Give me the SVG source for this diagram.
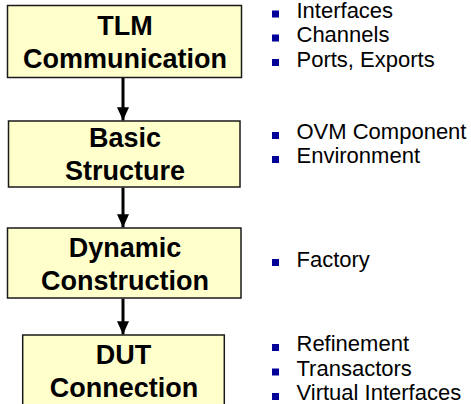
<svg xmlns="http://www.w3.org/2000/svg" width="471" height="404" viewBox="0 0 471 404">
<defs>
<style>
.box{fill:#FFFFCC;stroke:#1a1a1a;stroke-width:1.5}
.t{font-family:"Liberation Sans",Arial,sans-serif;font-weight:bold;font-size:27px;fill:#000;text-anchor:middle}
.b{font-family:"Liberation Sans",Arial,sans-serif;font-size:22px;fill:#000}
.sq{fill:#000099}
.c{stroke:#000;stroke-width:3;fill:none}
</style>
<marker id="ah" markerWidth="5" markerHeight="4" refX="4.4" refY="2" orient="auto" markerUnits="strokeWidth">
<path d="M0,0 L4.4,2 L0,4 Z" fill="#000"/>
</marker>
</defs>
<g id="connectors">
<line class="c" x1="123" y1="78" x2="123" y2="120.5" marker-end="url(#ah)"/>
<line class="c" x1="123" y1="187.5" x2="123" y2="227.5" marker-end="url(#ah)"/>
<line class="c" x1="123" y1="298.5" x2="123" y2="334.5" marker-end="url(#ah)"/>
</g>
<g id="tlm">
<rect class="box" x="7.5" y="5.5" width="234" height="72"/>
<text class="t" x="125" y="35">TLM</text>
<text class="t" x="125" y="68">Communication</text>
</g>
<g id="basic">
<rect class="box" x="8.5" y="121" width="231.5" height="66"/>
<text class="t" x="125" y="147">Basic</text>
<text class="t" x="125" y="180">Structure</text>
</g>
<g id="dynamic">
<rect class="box" x="7.5" y="228" width="233.5" height="70"/>
<text class="t" x="125" y="257">Dynamic</text>
<text class="t" x="125" y="290">Construction</text>
</g>
<g id="dut">
<rect class="box" x="22.7" y="335" width="201.6" height="80"/>
<text class="t" x="123.5" y="364">DUT</text>
<text class="t" x="124" y="397">Connection</text>
</g>
<g id="bullets-tlm">
<rect class="sq" x="272" y="10.5" width="7" height="7"/>
<text class="b" x="296.5" y="18">Interfaces</text>
<rect class="sq" x="272" y="34.5" width="7" height="7"/>
<text class="b" x="296.5" y="42">Channels</text>
<rect class="sq" x="272" y="59" width="7" height="7"/>
<text class="b" x="296.5" y="66.7">Ports, Exports</text>
</g>
<g id="bullets-basic">
<rect class="sq" x="272" y="132" width="7" height="7"/>
<text class="b" x="296.5" y="139.3">OVM Component</text>
<rect class="sq" x="272" y="156" width="7" height="7"/>
<text class="b" x="296.5" y="163.3">Environment</text>
</g>
<g id="bullets-dynamic">
<rect class="sq" x="272" y="259" width="7" height="7"/>
<text class="b" x="296.5" y="266.7">Factory</text>
</g>
<g id="bullets-dut">
<rect class="sq" x="272" y="344" width="7" height="7"/>
<text class="b" x="296.5" y="350.7">Refinement</text>
<rect class="sq" x="272" y="368.5" width="7" height="7"/>
<text class="b" x="296.5" y="375.7">Transactors</text>
<rect class="sq" x="272" y="393" width="7" height="7"/>
<text class="b" x="296.5" y="400">Virtual Interfaces</text>
</g>
</svg>
